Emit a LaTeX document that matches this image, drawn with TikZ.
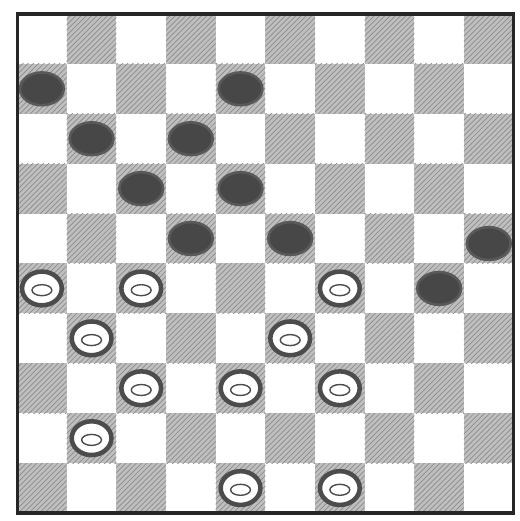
\documentclass[tikz,border=0pt]{standalone}
\usepackage{tikz}
\usetikzlibrary{shapes.geometric, patterns}

\begin{document}
\begin{tikzpicture}[x=1cm, y=1.005cm,
    darksq/.style = {fill=gray!50},
    blackman/.style = {draw=black!65, ellipse, fill=black!72, line width=1.5pt, minimum width=0.88cm, minimum height=0.66cm, inner sep=0pt},
    whiteman/.style = {draw=black!70, ellipse, fill=white, line width=2.6pt, minimum width=0.8cm, minimum height=0.68cm, inner sep=0pt,
        path picture={\draw[black!70, line width=0.8pt] ([yshift=-1pt]path picture bounding box.center) ellipse (0.2 and 0.11);}}]
    % 边界
    \useasboundingbox (-0.344,-0.16) rectangle (10.121,10.28);
    \fill[white] (-0.344,-0.16) rectangle (10.121,10.28);

    % 深色格子 (行 r 从上往下)
    \foreach \r in {0,...,9} {
        \foreach \c in {0,...,9} {
            \pgfmathtruncatemacro{\oddsq}{mod(\r+\c,2)}
            \ifnum\oddsq=1
                \fill[darksq] (\c,9-\r) rectangle ++(1,1);
                \fill[pattern=north east lines, pattern color=gray!90] (\c,9-\r) rectangle ++(1,1);
            \fi
        }
    }
    \draw[black!85, line width=1.8pt] (0,0) rectangle (10,10);

    % 黑子
    \node[blackman] (s6)  at (0.5,8.5) {};
    \node[blackman] (s8)  at (4.5,8.5) {};
    \node[blackman] (s11) at (1.5,7.5) {};
    \node[blackman] (s12) at (3.5,7.5) {};
    \node[blackman] (s17) at (2.5,6.5) {};
    \node[blackman] (s18) at (4.5,6.5) {};
    \node[blackman] (s22) at (3.5,5.5) {};
    \node[blackman] (s23) at (5.5,5.5) {};
    \node[blackman] (s25) at (9.5,5.4) {};
    \node[blackman] (s30) at (8.5,4.5) {};

    % 白子
    \node[whiteman] (s26) at (0.5,4.5) {};
    \node[whiteman] (s27) at (2.5,4.5) {};
    \node[whiteman] (s29) at (6.5,4.5) {};
    \node[whiteman] (s31) at (1.5,3.5) {};
    \node[whiteman] (s33) at (5.5,3.5) {};
    \node[whiteman] (s37) at (2.5,2.5) {};
    \node[whiteman] (s38) at (4.5,2.5) {};
    \node[whiteman] (s39) at (6.5,2.5) {};
    \node[whiteman] (s41) at (1.5,1.5) {};
    \node[whiteman] (s48) at (4.5,0.5) {};
    \node[whiteman] (s49) at (6.5,0.5) {};
\end{tikzpicture}
\end{document}
